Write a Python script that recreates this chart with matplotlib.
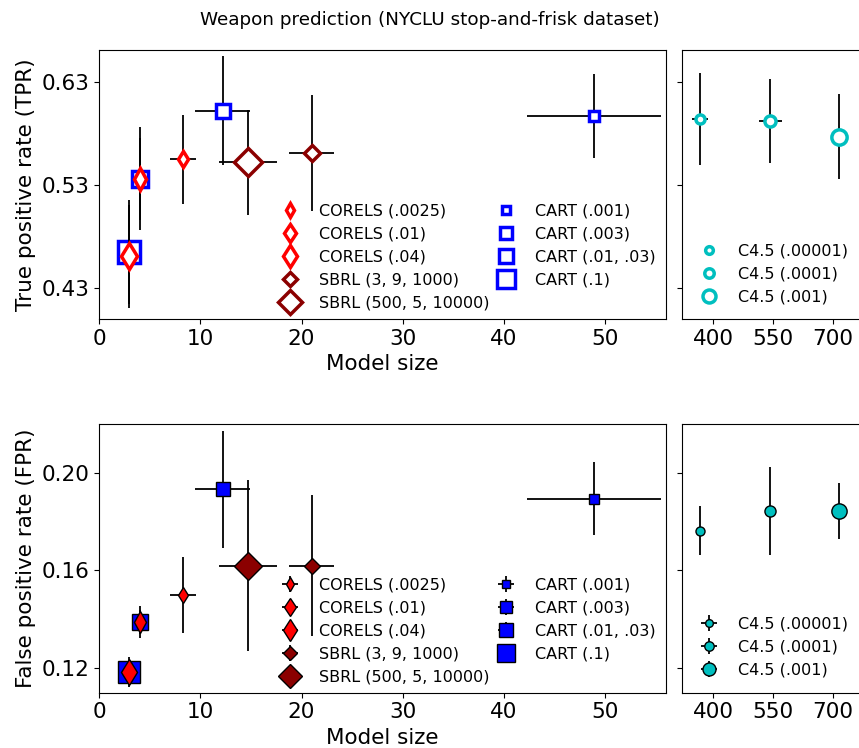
import matplotlib
matplotlib.use("Agg")
import matplotlib.pyplot as plt

# model size (x) and its spread
corels_x = [8.3, 4.0, 3.0]
corels_xerr = [1.3, 0.3, 0.2]
sbrl_x = [21.0, 14.7]
sbrl_xerr = [2.2, 2.85]
cart_x = [48.9, 12.2, 4.0, 3.0]
cart_xerr = [6.65, 2.75, 0.3, 0.2]
c45_x = [367, 543, 715]
c45_xerr_tpr = [20, 29, 5]
c45_xerr_fpr = [8, 10, 8]

# true positive rate
corels_tpr = [0.555, 0.536, 0.461]
corels_tpr_err = [0.043, 0.050, 0.050]
sbrl_tpr = [0.561, 0.552]
sbrl_tpr_err = [0.056, 0.051]
cart_tpr = [0.597, 0.602, 0.536, 0.465]
cart_tpr_err = [0.041, 0.053, 0.040, 0.050]
c45_tpr = [0.594, 0.592, 0.577]
c45_tpr_err = [0.045, 0.041, 0.041]

# false positive rate
corels_fpr = [0.150, 0.139, 0.1184]
corels_fpr_err = [0.0155, 0.0065, 0.006]
sbrl_fpr = [0.162, 0.162]
sbrl_fpr_err = [0.029, 0.035]
cart_fpr = [0.1894, 0.1932, 0.139, 0.1185]
cart_fpr_err = [0.015, 0.024, 0.005, 0.005]
c45_fpr = [0.1763, 0.1843, 0.1843]
c45_fpr_err = [0.010, 0.018, 0.0116]

corels_labels = ['CORELS (.0025)', 'CORELS (.01)', 'CORELS (.04)']
sbrl_labels = ['SBRL (3, 9, 1000)', 'SBRL (500, 5, 10000)']
cart_labels = ['CART (.001)', 'CART (.003)', 'CART (.01, .03)', 'CART (.1)']
c45_labels = ['C4.5 (.00001)', 'C4.5 (.0001)', 'C4.5 (.001)']

corels_ms = [8.5, 11, 13.5]
sbrl_ms = [8.5, 14]
cart_ms = [7, 9.5, 11.5, 16]
c45_ms = [6.5, 8, 11]

plt.rcParams['font.size'] = 15.5
leg_kw = dict(fontsize=11.5, frameon=False, markerscale=0.85, labelspacing=0.5,
              handletextpad=0.8, borderaxespad=0, loc='lower left')

fig = plt.figure(figsize=(8.59, 7.48), dpi=100)
W, H = 859.0, 748.0
ax_tl = fig.add_axes([99/W, 1-319/H, 567/W, 269/H])
ax_tr = fig.add_axes([682/W, 1-319/H, 179/W, 269/H])
ax_bl = fig.add_axes([99/W, 1-692.7/H, 567/W, 268.7/H])
ax_br = fig.add_axes([682/W, 1-692.7/H, 179/W, 268.7/H])

ekw = dict(fmt='none', ecolor='k', elinewidth=1.3)

# ---- top: TPR, open markers
def top_group(ax, xs, ys, xerr, yerr, mk, ms, col, labels, zo):
	hs = []
	for i in range(len(xs)):
		ax.errorbar(xs[i], ys[i], xerr=xerr[i], yerr=yerr[i], zorder=zo, **ekw)
		h, = ax.plot(xs[i], ys[i], mk, ms=ms[i], mfc='w', mec=col, mew=2.5,
					 ls='none', label=labels[i], zorder=zo+0.5)
		hs.append(h)
	return hs

h_cart = top_group(ax_tl, cart_x, cart_tpr, cart_xerr, cart_tpr_err, 's', cart_ms, 'blue', cart_labels, 2)
h_corels = top_group(ax_tl, corels_x, corels_tpr, corels_xerr, corels_tpr_err, 'd', corels_ms, 'red', corels_labels, 4)
h_sbrl = top_group(ax_tl, sbrl_x, sbrl_tpr, sbrl_xerr, sbrl_tpr_err, 'D', sbrl_ms, 'darkred', sbrl_labels, 4)
ax_tl.legend(handles=h_corels+h_sbrl+h_cart, ncol=2, columnspacing=0.05,
			 bbox_to_anchor=(0.297, 0.008), **leg_kw)
h_c45 = top_group(ax_tr, c45_x, c45_tpr, c45_xerr_tpr, c45_tpr_err, 'o', c45_ms, 'c', c45_labels, 2)
ax_tr.legend(handles=h_c45, bbox_to_anchor=(0.026, 0.03), **leg_kw)

# ---- bottom: FPR, filled markers with error bars in legend
def bottom_group(ax, xs, ys, xerr, yerr, mk, ms, col, labels, zo):
	hs = []
	for i in range(len(xs)):
		h = ax.errorbar(xs[i], ys[i], xerr=xerr[i], yerr=yerr[i], fmt=mk, ms=ms[i],
						mfc=col, mec='k', mew=1, ecolor='k', elinewidth=1.3,
						label=labels[i], zorder=zo)
		hs.append(h)
	return hs

b_cart = bottom_group(ax_bl, cart_x, cart_fpr, cart_xerr, cart_fpr_err, 's', cart_ms, 'blue', cart_labels, 2)
b_corels = bottom_group(ax_bl, corels_x, corels_fpr, corels_xerr, corels_fpr_err, 'd', corels_ms, 'red', corels_labels, 4)
b_sbrl = bottom_group(ax_bl, sbrl_x, sbrl_fpr, sbrl_xerr, sbrl_fpr_err, 'D', sbrl_ms, 'darkred', sbrl_labels, 4)
ax_bl.legend(handles=b_corels+b_sbrl+b_cart, ncol=2, columnspacing=0.05,
			 bbox_to_anchor=(0.297, 0.007), **leg_kw)
b_c45 = bottom_group(ax_br, c45_x, c45_fpr, c45_xerr_fpr, c45_fpr_err, 'o', c45_ms, 'c', c45_labels, 2)
ax_br.legend(handles=b_c45, bbox_to_anchor=(0.026, 0.033), **leg_kw)

for ax in [ax_tl, ax_bl]:
	ax.set_xlim(0, 56)
	ax.set_xticks([0, 10, 20, 30, 40, 50])
	ax.set_xlabel("Model size")
for ax in [ax_tr, ax_br]:
	ax.set_xlim(322, 770)
	ax.set_xticks([400, 550, 700])
	ax.tick_params(axis='y', labelleft=False)

for ax in [ax_tl, ax_tr]:
	ax.set_ylim(0.40, 0.661)
	ax.set_yticks([0.43, 0.53, 0.63])
for ax in [ax_bl, ax_br]:
	ax.set_ylim(0.110, 0.2199)
	ax.set_yticks([0.12, 0.16, 0.20])
ax_bl.set_yticklabels(['0.12', '0.16', '0.20'])

ax_tl.set_ylabel("True positive rate (TPR)")
ax_bl.set_ylabel("False positive rate (FPR)")
fig.suptitle("Weapon prediction (NYCLU stop-and-frisk dataset)", fontsize=13.2, y=0.973, va='center')

plt.savefig('out.png', dpi=100)
